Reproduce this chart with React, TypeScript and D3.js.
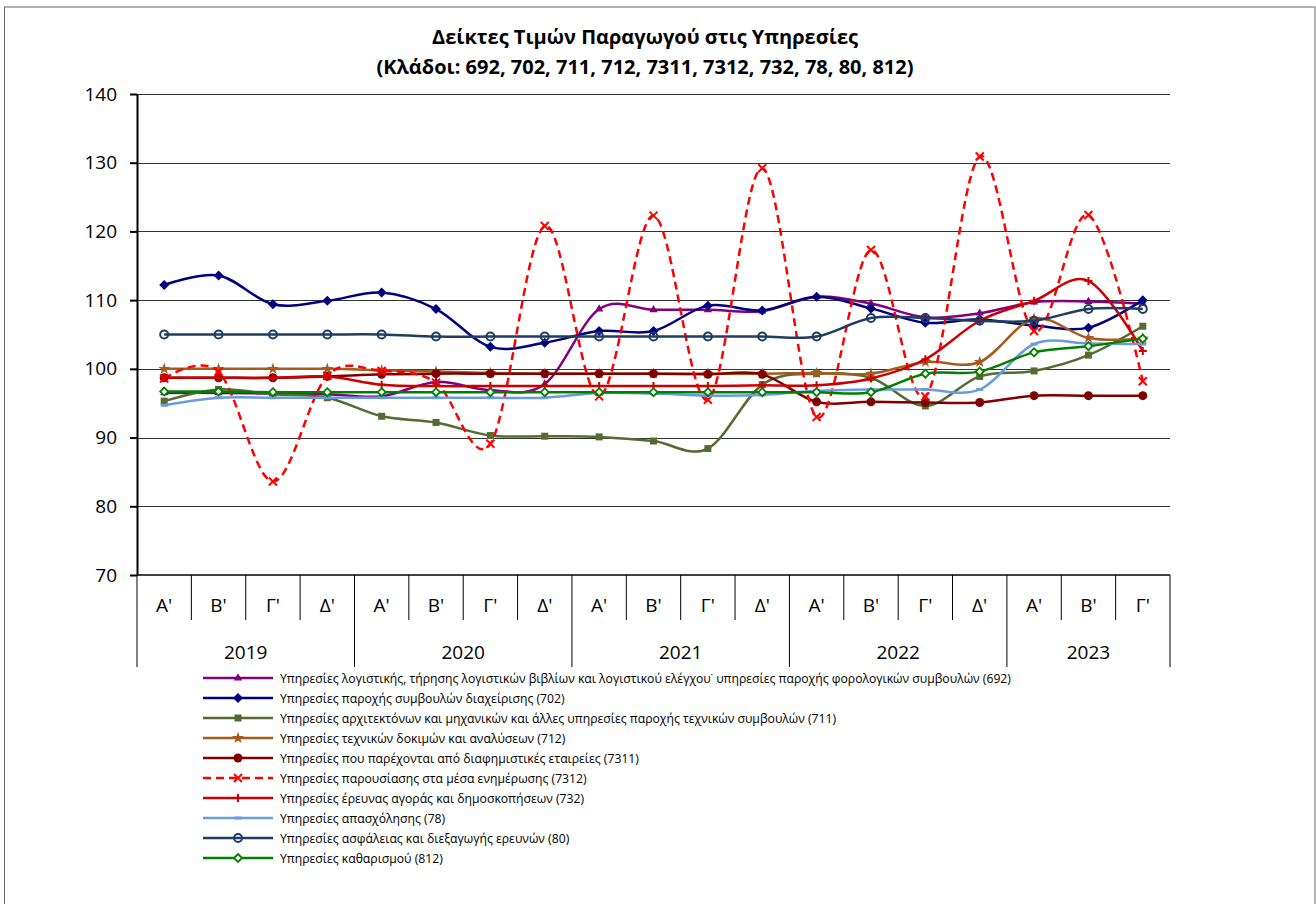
import * as d3 from 'd3';
import { useRef, useEffect } from 'react';

const quarters = ["Α'", "Β'", "Γ'", "Δ'"];
const years = ['2019', '2020', '2021', '2022', '2023'];
// 19 periods: 2019 Α' ... 2023 Γ'
const periods = years.flatMap((y) => quarters.map((q) => ({ year: y, q }))).slice(0, 19);

const yTicks = [70, 80, 90, 100, 110, 120, 130, 140];

const titleLines = [
  'Δείκτες Τιμών Παραγωγού στις Υπηρεσίες',
  '(Κλάδοι: 692, 702, 711, 712, 7311, 7312, 732, 78, 80, 812)',
];

const s692 = [96.5, 96.5, 96.4, 96.3, 96.0, 98.1, 96.9, 97.8, 108.7, 108.6, 108.6, 108.4, 110.5, 109.5, 107.5, 108.1, 109.7, 109.8, 109.5];
const s702 = [112.2, 113.6, 109.4, 109.9, 111.1, 108.7, 103.2, 103.8, 105.5, 105.5, 109.2, 108.5, 110.5, 108.8, 106.7, 107.2, 106.3, 106.0, 110.0];
const s711 = [95.3, 97.0, 96.3, 95.8, 93.1, 92.2, 90.3, 90.2, 90.1, 89.5, 88.4, 97.7, 99.3, 98.7, 94.6, 98.9, 99.7, 102.0, 106.2];
const s712 = [100, 100, 100, 100, 99.8, 99.6, 99.4, 99.3, 99.3, 99.3, 99.3, 99.3, 99.4, 99.3, 101.0, 101.0, 107.3, 104.5, 104.4];
const s7311 = [98.7, 98.7, 98.7, 98.9, 99.2, 99.3, 99.3, 99.3, 99.3, 99.3, 99.2, 99.2, 95.2, 95.2, 95.1, 95.1, 96.1, 96.1, 96.1];
const s7312 = [98.6, 99.6, 83.6, 99.0, 99.7, 98.0, 89.1, 120.8, 96.0, 122.3, 95.5, 129.2, 93.0, 117.3, 96.0, 130.9, 105.5, 122.4, 98.2];
const s732 = [98.7, 98.7, 98.7, 98.9, 97.7, 97.5, 97.5, 97.5, 97.5, 97.5, 97.5, 97.6, 97.6, 98.6, 101.4, 107.0, 109.9, 112.8, 102.6];
const s78 = [94.7, 95.8, 95.8, 95.8, 95.8, 95.8, 95.8, 95.8, 96.5, 96.4, 96.1, 96.2, 96.8, 97.0, 97.0, 97.0, 103.6, 103.7, 103.6];
const s80 = [105.0, 105.0, 105.0, 105.0, 105.0, 104.7, 104.7, 104.7, 104.7, 104.7, 104.7, 104.7, 104.7, 107.4, 107.4, 107.0, 107.0, 108.7, 108.7];
const s812 = [96.7, 96.7, 96.6, 96.6, 96.6, 96.6, 96.6, 96.6, 96.6, 96.6, 96.6, 96.6, 96.6, 96.6, 99.3, 99.6, 102.4, 103.3, 104.4];

const series = [
  { name: 'Υπηρεσίες λογιστικής, τήρησης λογιστικών βιβλίων και λογιστικού ελέγχου˙ υπηρεσίες παροχής φορολογικών συμβουλών (692)', values: s692, color: '#800080', marker: 'triangle' },
  { name: 'Υπηρεσίες παροχής συμβουλών διαχείρισης (702)', values: s702, color: '#000080', marker: 'diamond' },
  { name: 'Υπηρεσίες αρχιτεκτόνων και μηχανικών και άλλες υπηρεσίες παροχής τεχνικών συμβουλών (711)', values: s711, color: '#556B2F', marker: 'square' },
  { name: 'Υπηρεσίες τεχνικών δοκιμών και αναλύσεων (712)', values: s712, color: '#A65A1C', marker: 'star' },
  { name: 'Υπηρεσίες που παρέχονται από διαφημιστικές εταιρείες (7311)', values: s7311, color: '#800000', marker: 'circle' },
  { name: 'Υπηρεσίες παρουσίασης στα μέσα ενημέρωσης (7312)', values: s7312, color: '#FF0000', marker: 'x', dashed: true },
  { name: 'Υπηρεσίες έρευνας αγοράς και δημοσκοπήσεων (732)', values: s732, color: '#CC0000', marker: 'plus' },
  { name: 'Υπηρεσίες απασχόλησης (78)', values: s78, color: '#6A9BDC', marker: 'dash' },
  { name: 'Υπηρεσίες ασφάλειας και διεξαγωγής ερευνών (80)', values: s80, color: '#1F3D63', marker: 'ocircle' },
  { name: 'Υπηρεσίες καθαρισμού (812)', values: s812, color: '#008000', marker: 'odiamond' },
];

const FONT = '"Open Sans", "Noto Sans", sans-serif';

const drawMarker = (g: any, type: string, cx: number, cy: number, color: string) => {
  const t = `translate(${cx},${cy})`;
  if (type === 'diamond') {
    g.append('path').attr('transform', t).attr('d', 'M0,-5L5,0L0,5L-5,0Z').attr('fill', color);
  } else if (type === 'odiamond') {
    g.append('path').attr('transform', t).attr('d', 'M0,-4L4,0L0,4L-4,0Z').attr('fill', '#fff').attr('stroke', color).attr('stroke-width', 1.8);
  } else if (type === 'square') {
    g.append('rect').attr('x', cx - 3.5).attr('y', cy - 3.5).attr('width', 7).attr('height', 7).attr('fill', color);
  } else if (type === 'circle') {
    g.append('circle').attr('cx', cx).attr('cy', cy).attr('r', 4.5).attr('fill', color);
  } else if (type === 'ocircle') {
    g.append('circle').attr('cx', cx).attr('cy', cy).attr('r', 4).attr('fill', 'none').attr('stroke', color).attr('stroke-width', 2);
  } else if (type === 'triangle') {
    g.append('path').attr('transform', t).attr('d', d3.symbol(d3.symbolTriangle, 30)()).attr('fill', color);
  } else if (type === 'star') {
    g.append('path').attr('transform', t).attr('d', d3.symbol(d3.symbolStar, 45)()).attr('fill', color);
  } else if (type === 'x') {
    g.append('path').attr('transform', t).attr('d', 'M-4,-4L4,4M-4,4L4,-4').attr('stroke', color).attr('stroke-width', 2).attr('fill', 'none');
  } else if (type === 'plus') {
    g.append('path').attr('transform', t).attr('d', 'M-4,0L4,0M0,-4L0,4').attr('stroke', color).attr('stroke-width', 2).attr('fill', 'none');
  } else if (type === 'dash') {
    g.append('rect').attr('x', cx - 3.5).attr('y', cy - 1.5).attr('width', 7).attr('height', 3).attr('fill', color);
  }
};

const PriceChart = () => {
  const ref = useRef<SVGSVGElement>(null);
  const W = 1316;
  const H = 904;
  const plot = { left: 137, right: 1170, top: 94, bottom: 575 };

  useEffect(() => {
    const svg = d3.select(ref.current);
    svg.selectAll('*').remove();

    // outer frame
    svg.append('rect').attr('x', 4.5).attr('y', 7).attr('width', 1310.5).attr('height', 920)
      .attr('fill', '#fff').attr('stroke', '#666').attr('stroke-width', 1);

    // title
    titleLines.forEach((t, i) => {
      svg.append('text').attr('x', 645).attr('y', 44 + i * 30).attr('text-anchor', 'middle')
        .style('font-family', FONT).style('font-size', '20px').style('font-weight', 'bold').text(t);
    });

    const x = d3.scaleBand().domain(d3.range(periods.length).map(String)).range([plot.left, plot.right]);
    const y = d3.scaleLinear().domain([70, 140]).range([plot.bottom, plot.top]);
    const cx = (i: number) => (x(String(i)) || 0) + x.bandwidth() / 2;

    // gridlines
    svg.append('g').selectAll('line').data(yTicks.slice(1)).join('line')
      .attr('x1', plot.left).attr('x2', plot.right)
      .attr('y1', (d) => Math.round(y(d)) + 0.5).attr('y2', (d) => Math.round(y(d)) + 0.5)
      .attr('stroke', '#333').attr('stroke-width', 1.2);

    // y axis
    const yAxis = svg.append('g').attr('transform', `translate(${plot.left},0)`)
      .call(d3.axisLeft(y).tickValues(yTicks).tickSize(7).tickSizeOuter(0).tickPadding(13));
    yAxis.select('.domain').attr('stroke', '#000').attr('stroke-width', 2);
    yAxis.selectAll('.tick line').attr('stroke', '#000').attr('stroke-width', 2);
    yAxis.selectAll('.tick text').style('font-family', FONT).style('font-size', '19px').attr('fill', '#000');

    // x axis (two level categories)
    const xg = svg.append('g');
    xg.append('line').attr('x1', plot.left).attr('x2', plot.right).attr('y1', plot.bottom).attr('y2', plot.bottom)
      .attr('stroke', '#000').attr('stroke-width', 1.5);
    const bounds = d3.range(periods.length + 1);
    xg.selectAll('line.sep').data(bounds).join('line').attr('class', 'sep')
      .attr('x1', (i) => plot.left + i * x.bandwidth()).attr('x2', (i) => plot.left + i * x.bandwidth())
      .attr('y1', plot.bottom)
      .attr('y2', (i) => (i === 0 || i === periods.length || i % 4 === 0 ? 667 : 620))
      .attr('stroke', '#000').attr('stroke-width', 1);
    xg.selectAll('text.q').data(periods).join('text').attr('class', 'q')
      .attr('x', (_, i) => cx(i)).attr('y', 612).attr('text-anchor', 'middle')
      .style('font-family', FONT).style('font-size', '19px').text((d) => d.q);
    xg.selectAll('text.yr').data(years).join('text').attr('class', 'yr')
      .attr('x', (_, i) => {
        const start = i * 4;
        const end = Math.min(start + 4, periods.length);
        return plot.left + ((start + end) / 2) * x.bandwidth();
      })
      .attr('y', 659).attr('text-anchor', 'middle')
      .style('font-family', FONT).style('font-size', '19px').text((d) => d);

    // lines
    const lineGen = d3.line<number>()
      .x((_, i) => cx(i))
      .y((d) => y(d))
      .curve(d3.curveCardinal.tension(0));

    series.forEach((s) => {
      const g = svg.append('g');
      g.append('path').datum(s.values).attr('d', lineGen).attr('fill', 'none')
        .attr('stroke', s.color).attr('stroke-width', 2.5)
        .attr('stroke-dasharray', s.dashed ? '8 5' : null);
      s.values.forEach((v, i) => drawMarker(g, s.marker, cx(i), y(v), s.color));
    });

    // legend
    const lg = svg.append('g');
    series.forEach((s, i) => {
      const ly = 678 + i * 20;
      lg.append('line').attr('x1', 203).attr('x2', 273).attr('y1', ly).attr('y2', ly)
        .attr('stroke', s.color).attr('stroke-width', 2.5).attr('stroke-dasharray', s.dashed ? '8 5' : null);
      drawMarker(lg, s.marker, 238, ly, s.color);
      lg.append('text').attr('x', 280).attr('y', ly + 4.5)
        .style('font-family', FONT).style('font-size', '12.2px').text(s.name);
    });
  }, []);

  return <svg ref={ref} width={W} height={H} style={{ position: 'absolute', left: 0, top: 0 }} />;
};

export default function App() {
  return <PriceChart />;
}
